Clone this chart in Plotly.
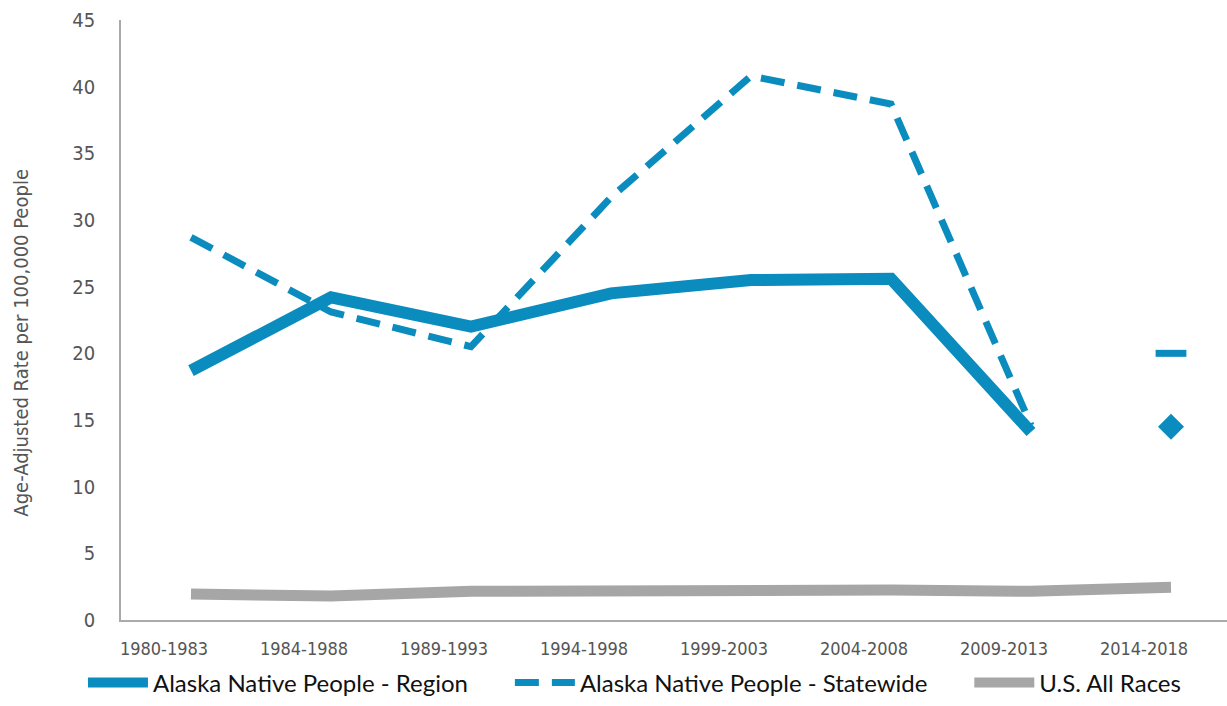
import plotly.graph_objects as go

periods = ["1980-1983", "1984-1988", "1989-1993", "1994-1998", "1999-2003", "2004-2008", "2009-2013", "2014-2018"]
region = [18.7, 24.2, 22.0, 24.5, 25.5, 25.6, 14.1, 14.5]
statewide = [28.7, 23.1, 20.5, 31.7, 40.8, 38.7, 14.6, 20.0]
us_all = [1.95, 1.8, 2.15, 2.25, 2.25, 2.25, 2.15, 2.45]
y_ticks = [0, 5, 10, 15, 20, 25, 30, 35, 40, 45]
names = ["Alaska Native People - Region", "Alaska Native People - Statewide", "U.S. All Races"]
y_title = "Age-Adjusted Rate per 100,000 People"

BLUE = "#0A8CBF"
GRAY = "#A6A6A6"
AXFONT = "DejaVu Sans Condensed, Lato, sans-serif"
PAD = "\u00a0" * 6

fig = go.Figure()
fig.add_trace(go.Scatter(x=periods[:7], y=region[:7], mode="lines", name=names[0] + PAD,
                         line=dict(color=BLUE, width=12)))
fig.add_trace(go.Scatter(x=periods[7:], y=region[7:], mode="markers", showlegend=False,
                         marker=dict(symbol="diamond", size=20, color=BLUE)))
fig.add_trace(go.Scatter(x=periods[:7], y=statewide[:7], mode="lines", name=names[1] + PAD,
                         line=dict(color=BLUE, width=7, dash="24px,13px")))
fig.add_trace(go.Scatter(x=periods[7:], y=statewide[7:], mode="markers", showlegend=False,
                         marker=dict(symbol="line-ew", size=22, color=BLUE, line=dict(color=BLUE, width=7))))
fig.add_trace(go.Scatter(x=periods, y=us_all, mode="lines", name=names[2],
                         line=dict(color=GRAY, width=11)))

fig.update_layout(
    width=1227, height=706,
    margin=dict(l=121, r=0, t=20, b=86),
    paper_bgcolor="white", plot_bgcolor="white",
    font=dict(family="Lato, Open Sans, sans-serif", color="#404040"),
    showlegend=True,
    legend=dict(orientation="h", x=-0.0344, xanchor="left", y=-0.105, yanchor="middle",
                font=dict(size=24, color="#111111"), itemwidth=60,
                traceorder="normal"),
    xaxis=dict(type="category", categoryorder="array", categoryarray=periods,
               range=[-0.5, 7.4], showgrid=False, zeroline=False, automargin=False,
               showline=True, linecolor="#AAAAAA", linewidth=1.5,
               ticks="", ticklabelstandoff=12, ticklabelshift=-27,
               tickfont=dict(family=AXFONT, size=18, color="#555555")),
    yaxis=dict(range=[0, 45], tickvals=y_ticks, showgrid=False, zeroline=False, automargin=False,
               showline=True, linecolor="#AAAAAA", linewidth=1.5, ticks="",
               tickfont=dict(family=AXFONT, size=20, color="#555555"),
               ticklabelstandoff=20,
               title=dict(text=y_title + "\u00a0" * 8 + "\u200b", standoff=38,
                          font=dict(family=AXFONT, size=20, color="#555555"))),
)

fig.write_html("out.html", config={"displayModeBar": False},
               post_script="document.body.style.margin='0';")
